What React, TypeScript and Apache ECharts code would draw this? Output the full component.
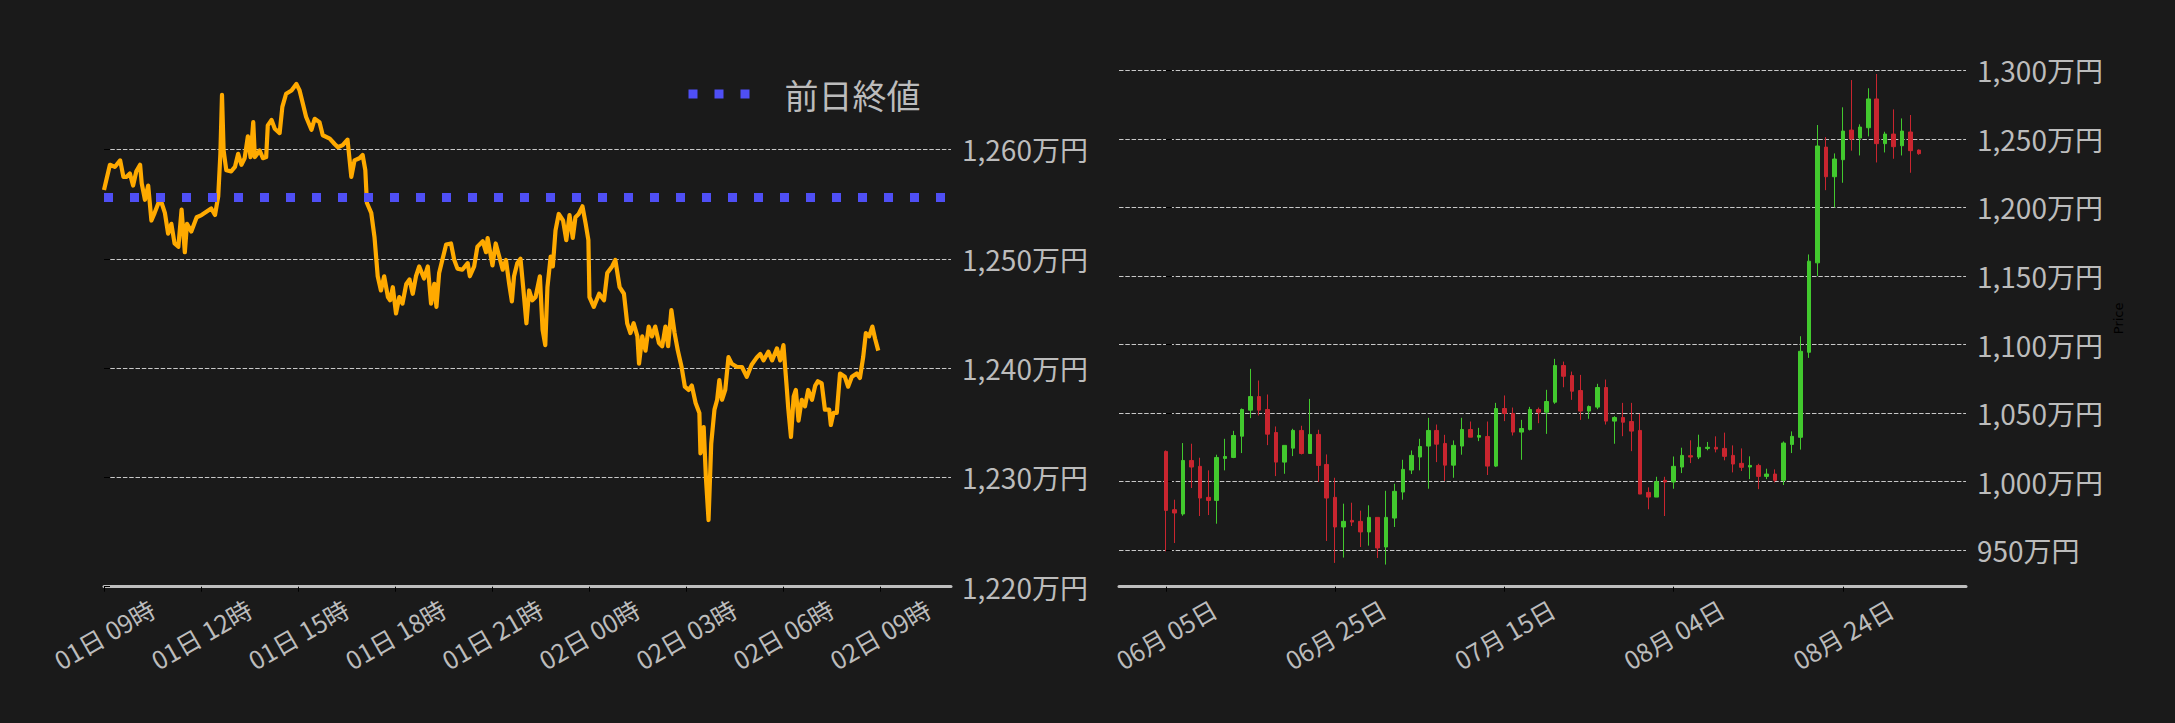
import * as echarts from 'echarts';
import React, { useEffect, useRef } from 'react';

// 日中（分単位、01日 09時 起点）
const intradayMinutes = [
  0, 11, 20, 30, 36, 42, 48, 54, 60, 67, 70, 76, 82, 88, 94, 101, 107, 113, 119, 125,
  131, 138, 144, 150, 154, 162, 172, 181, 190, 199, 206, 212, 216, 219, 222, 227, 236, 243, 249, 255,
  261, 267, 272, 277, 280, 289, 295, 301, 304, 311, 317, 326, 331, 338, 348, 357, 363, 369, 375, 385,
  391, 400, 406, 419, 428, 434, 443, 452, 459, 465, 474, 480, 485, 488, 496, 502, 508, 514, 520, 527,
  531, 536, 542, 548, 554, 561, 567, 573, 579, 585, 594, 601, 607, 613, 617, 622, 628, 635, 644, 650,
  656, 665, 675, 679, 687, 693, 703, 709, 712, 721, 727, 733, 740, 746, 752, 757, 761, 767, 773, 778,
  784, 789, 795, 801, 809, 814, 819, 823, 829, 833, 838, 844, 852, 858, 864, 870, 875, 881, 888, 894,
  899, 901, 909, 919, 928, 934, 943, 949, 957, 965, 971, 977, 983, 990, 993, 999, 1005, 1011, 1017, 1023,
  1030, 1036,
  1042, 1047, 1053, 1059, 1065, 1072, 1078, 1085, 1091, 1098, 1105, 1107, 1113, 1117, 1122, 1127, 1133, 1138, 1142, 1147,
  1153, 1159, 1165, 1175, 1184, 1193, 1202, 1212, 1218, 1224, 1233, 1240, 1249, 1255, 1261, 1267, 1270, 1275, 1280, 1284,
  1289, 1295, 1301, 1307, 1314, 1320, 1325, 1332, 1338, 1346, 1349, 1354, 1360, 1366, 1375, 1381, 1388, 1397, 1403, 1409,
  1414, 1420, 1426, 1431, 1437,
];

const intradayPrices = [
  1256.3, 1258.6, 1258.4, 1259.0, 1257.5, 1257.5, 1257.8, 1256.7, 1258.0, 1258.6,
  1256.9, 1255.4, 1256.7, 1253.5, 1254.2, 1255.1, 1255.1, 1254.2, 1252.3, 1253.2,
  1251.4, 1251.1, 1254.5, 1250.6, 1253.2, 1252.5, 1253.8, 1254.0, 1254.3, 1254.6,
  1254.0, 1255.7, 1259.6, 1265.0, 1259.9, 1258.1, 1258.0, 1258.4, 1259.6, 1258.6,
  1259.2, 1261.2, 1259.3, 1262.5, 1259.3, 1259.9, 1259.2, 1259.3, 1262.2, 1262.7,
  1261.9, 1261.5, 1263.9, 1265.1, 1265.4, 1266.0, 1265.4, 1264.2, 1263.0, 1261.8,
  1262.8, 1262.5, 1261.3, 1261.0, 1260.5, 1260.2, 1260.4, 1260.9, 1257.5, 1259.0,
  1259.2, 1259.5, 1258.1, 1255.1, 1254.2, 1252.0, 1248.4, 1247.1, 1248.4, 1246.5,
  1246.2, 1247.4, 1245.0, 1246.5, 1245.9, 1247.7, 1248.1, 1246.8, 1248.4, 1249.3,
  1248.2, 1249.3, 1245.9, 1247.7, 1245.6, 1248.7, 1249.9, 1251.3, 1251.4, 1249.9,
  1249.1, 1249.0, 1249.6, 1248.4, 1249.3, 1251.1, 1251.6, 1250.6, 1251.9, 1249.4,
  1251.4, 1250.3, 1249.0, 1249.9, 1247.7, 1246.1, 1248.4, 1249.6, 1250.0, 1247.4,
  1244.1, 1247.1, 1246.2, 1246.5, 1248.4, 1243.5, 1242.1, 1247.4, 1250.2, 1249.3,
  1252.6, 1254.1, 1253.5, 1251.7, 1254.0, 1251.9, 1253.8, 1254.1, 1254.8, 1253.2,
  1251.7, 1246.5, 1245.6, 1246.8, 1246.2, 1248.7, 1249.3, 1249.9, 1247.4, 1246.8,
  1244.1, 1243.2, 1244.1, 1242.9, 1240.4, 1242.9, 1241.6, 1243.8, 1242.9, 1243.8,
  1242.3, 1242.0,
  1243.8, 1242.0, 1245.3, 1243.2, 1241.6, 1240.1, 1238.3, 1238.0, 1238.4, 1236.8,
  1235.9, 1232.2, 1234.6, 1230.1, 1226.1, 1233.1, 1236.2, 1237.1, 1238.9, 1237.1,
  1238.0, 1241.0, 1240.4, 1240.1, 1240.1, 1239.2, 1240.3, 1241.0, 1241.3, 1240.7,
  1241.5, 1240.7, 1241.8, 1240.7, 1242.1, 1238.3, 1236.3, 1233.7, 1237.4, 1238.0,
  1235.2, 1237.1, 1236.5, 1238.0, 1237.1, 1238.4, 1238.8, 1238.6, 1236.2, 1236.2,
  1234.8, 1235.9, 1235.9, 1239.5, 1239.2, 1238.3, 1239.2, 1239.5, 1239.1, 1241.0,
  1243.2, 1242.9, 1243.8, 1242.7, 1241.6,
];

const prevClose = 1255.6;

const hourTickMinutes = [0, 180, 360, 540, 720, 900, 1080, 1260, 1440];
const hourTickLabels = [
  '01日 09時', '01日 12時', '01日 15時', '01日 18時', '01日 21時',
  '02日 00時', '02日 03時', '02日 06時', '02日 09時',
];
const intradayPriceTicks = [1220, 1230, 1240, 1250, 1260];

// 日足 [始値, 終値, 安値, 高値]（06月05日 〜 09月02日）
const dailyOHLC = [
  [1022.1, 979.1, 949.2, 1022.8], [979.6, 977.2, 955.3, 986.9], [976.5, 1015.5, 975.2, 1028.2],
  [1015.5, 1010.7, 995.4, 1027.7], [1011.2, 988.1, 975.0, 1017.5], [988.6, 986.4, 975.7, 1008.3],
  [986.4, 1017.7, 969.4, 1019.7], [1017.0, 1018.4, 1008.3, 1031.3], [1017.7, 1033.7, 1017.2, 1037.1],
  [1033.2, 1052.7, 1020.9, 1053.4], [1052.2, 1062.1, 1046.4, 1082.3], [1062.1, 1052.2, 1048.3, 1073.8],
  [1052.7, 1034.7, 1026.7, 1063.6], [1035.9, 1014.3, 1004.1, 1040.3], [1014.3, 1026.5, 1005.8, 1026.5],
  [1024.5, 1037.4, 1018.7, 1038.6], [1037.4, 1020.6, 1019.9, 1040.8], [1020.6, 1034.5, 1020.6, 1060.4],
  [1034.5, 1011.9, 999.8, 1037.9], [1012.6, 988.1, 956.8, 1019.9], [988.6, 967.0, 940.8, 1002.9],
  [967.0, 971.1, 944.7, 984.0], [971.8, 970.6, 967.7, 984.7], [971.1, 963.4, 952.4, 978.9],
  [963.4, 974.0, 953.4, 982.8], [974.0, 951.7, 944.4, 974.0], [952.4, 974.0, 939.6, 993.4],
  [973.5, 993.0, 967.0, 998.5], [992.5, 1009.0, 986.9, 1016.0], [1008.5, 1019.2, 1005.6, 1022.8],
  [1018.0, 1025.7, 1008.3, 1031.3], [1026.0, 1037.4, 994.9, 1046.6], [1037.4, 1027.4, 1014.3, 1041.7],
  [1027.9, 1012.1, 1000.5, 1034.2], [1012.1, 1026.5, 1002.9, 1030.1], [1026.0, 1038.1, 1019.7, 1046.6],
  [1038.1, 1032.5, 1032.5, 1043.9], [1032.5, 1033.7, 1029.6, 1039.3], [1033.0, 1011.4, 1004.9, 1043.9],
  [1011.4, 1053.4, 1010.7, 1057.5], [1053.4, 1049.8, 1044.2, 1062.9], [1049.8, 1036.2, 1033.7, 1054.1],
  [1036.2, 1038.8, 1016.0, 1045.1], [1038.1, 1052.7, 1037.4, 1054.6], [1052.7, 1050.7, 1042.7, 1054.1],
  [1050.7, 1058.5, 1034.9, 1067.0], [1058.0, 1084.7, 1056.8, 1089.6], [1084.7, 1076.9, 1068.9, 1087.6],
  [1077.4, 1066.0, 1059.7, 1080.3], [1066.5, 1051.5, 1045.1, 1077.9], [1051.5, 1054.8, 1045.9, 1055.6],
  [1054.4, 1068.7, 1052.9, 1071.4], [1068.7, 1044.2, 1041.7, 1074.5], [1044.2, 1046.8, 1027.7, 1047.8],
  [1046.8, 1043.4, 1033.2, 1057.5], [1043.9, 1036.9, 1022.3, 1057.5], [1037.4, 991.0, 991.0, 1049.5],
  [992.2, 988.8, 979.9, 995.9], [988.8, 1000.0, 988.8, 1003.6], [1001.0, 999.8, 975.0, 1003.6],
  [999.8, 1011.2, 994.9, 1018.4], [1010.7, 1019.2, 1006.3, 1024.8], [1019.0, 1018.0, 1013.6, 1030.2],
  [1018.0, 1025.1, 1016.5, 1034.3], [1024.3, 1025.1, 1022.9, 1029.0], [1025.1, 1023.8, 1021.4, 1033.1],
  [1024.3, 1018.5, 1015.6, 1035.8], [1019.2, 1012.9, 1006.8, 1026.5], [1013.4, 1010.5, 1007.8, 1024.3],
  [1010.7, 1011.9, 1001.9, 1018.5], [1011.9, 1003.9, 994.6, 1013.1], [1003.9, 1005.6, 1001.9, 1009.5],
  [1005.6, 1001.0, 999.5, 1009.0], [1001.0, 1028.2, 997.6, 1029.4], [1027.2, 1033.1, 1020.9, 1036.7],
  [1032.4, 1095.1, 1023.4, 1106.1], [1094.4, 1160.8, 1090.3, 1165.7], [1159.6, 1244.8, 1149.9, 1260.1],
  [1244.0, 1222.4, 1212.6, 1251.3], [1222.4, 1235.3, 1200.0, 1239.4], [1234.8, 1255.7, 1218.0, 1273.0],
  [1256.4, 1249.9, 1241.4, 1292.9], [1250.6, 1258.6, 1237.9, 1260.6], [1258.1, 1279.1, 1251.8, 1286.9],
  [1279.1, 1246.5, 1232.8, 1297.3], [1246.5, 1253.5, 1240.1, 1255.2], [1253.5, 1244.3, 1235.5, 1271.5],
  [1245.0, 1255.7, 1237.9, 1264.9], [1255.0, 1241.4, 1225.3, 1267.4], [1241.8, 1239.2, 1238.4, 1242.3],
];

const dayTickIndex = [0, 20, 40, 60, 80];
const dayTickLabels = ['06月 05日', '06月 25日', '07月 15日', '08月 04日', '08月 24日'];
const dailyPriceTicks = [950, 1000, 1050, 1100, 1150, 1200, 1250, 1300];

const FONT = "'Noto Sans CJK JP', 'Noto Sans', sans-serif";
const LABEL_COLOR = '#bcbcbc';
const PREV_CLOSE_COLOR = '#4f4ff5';
const GRID_LINE = { color: '#c8c8c8', width: 1, type: [4.5, 1.8] as number[] };

const yen = (v: number) => `${Math.round(v).toLocaleString('en-US')}万円`;

const App: React.FC = () => {
  const chartRef = useRef<HTMLDivElement>(null);

  useEffect(() => {
    if (!chartRef.current) return;
    const chart = echarts.init(chartRef.current, null, { renderer: 'svg' });

    const xLabel = (ticks: number[], labels: string[]) => ({
      customValues: ticks,
      formatter: (v: number) => labels[ticks.indexOf(v)] ?? '',
      rotate: 30,
      align: 'center',
      verticalAlign: 'middle',
      margin: 47,
      color: LABEL_COLOR,
      fontSize: 25,
      fontFamily: FONT,
    });

    const yLabel = (ticks: number[]) => ({
      customValues: ticks,
      formatter: (v: number) => yen(v),
      margin: 11,
      color: LABEL_COLOR,
      fontSize: 28,
      fontFamily: FONT,
    });

    const option: any = {
      animation: false,
      backgroundColor: '#1a1a1a',
      legend: {
        data: ['前日終値'],
        left: 684,
        top: 77,
        padding: 0,
        itemWidth: 61,
        itemHeight: 10,
        // 凡例は点線のみ（中央のシンボルは消す）
        itemStyle: { opacity: 0 },
        lineStyle: { color: PREV_CLOSE_COLOR, width: 9, type: [9, 17] },
        textStyle: { color: LABEL_COLOR, fontSize: 34, fontFamily: FONT, padding: [0, 0, 0, 30] },
      },
      grid: [
        { left: 104, top: 50, width: 847, height: 536.7, outerBoundsMode: 'none' },
        { left: 1119, top: 50, width: 847, height: 536.7, outerBoundsMode: 'none' },
      ],
      xAxis: [
        {
          gridIndex: 0,
          type: 'value',
          min: 0,
          max: 1572,
          axisLine: { show: true, onZero: false, lineStyle: { color: '#bebebe', width: 3 } },
          axisTick: { show: true, customValues: hourTickMinutes, length: 5, lineStyle: { color: '#000', width: 1 } },
          axisLabel: xLabel(hourTickMinutes, hourTickLabels),
          splitLine: { show: false },
        },
        {
          gridIndex: 1,
          type: 'value',
          min: -5.55,
          max: 94.55,
          axisLine: { show: true, onZero: false, lineStyle: { color: '#bebebe', width: 3 } },
          axisTick: { show: true, customValues: dayTickIndex, length: 5, lineStyle: { color: '#000', width: 1 } },
          axisLabel: xLabel(dayTickIndex, dayTickLabels),
          splitLine: { show: false },
        },
      ],
      yAxis: [
        {
          gridIndex: 0,
          type: 'value',
          position: 'right',
          min: 1220,
          max: 1269.1,
          axisLine: { show: false },
          axisTick: { show: true, customValues: intradayPriceTicks, length: 6, lineStyle: { color: '#000' } },
          axisLabel: yLabel(intradayPriceTicks),
          splitLine: { show: true, lineStyle: GRID_LINE },
        },
        {
          gridIndex: 1,
          type: 'value',
          position: 'right',
          min: 923.46,
          max: 1314.8,
          name: 'Price',
          nameLocation: 'middle',
          nameRotate: 90,
          nameGap: 146,
          nameTextStyle: { color: '#000', fontSize: 13, fontFamily: 'DejaVu Sans' },
          axisLine: { show: false },
          axisTick: { show: true, customValues: dailyPriceTicks, length: 6, lineStyle: { color: '#000' } },
          axisLabel: yLabel(dailyPriceTicks),
          splitLine: { show: true, lineStyle: GRID_LINE },
        },
      ],
      series: [
        {
          name: '価格',
          type: 'line',
          xAxisIndex: 0,
          yAxisIndex: 0,
          data: intradayMinutes.map((m, i) => [m, intradayPrices[i]]),
          showSymbol: false,
          symbol: 'none',
          lineStyle: { color: '#ffaa00', width: 4.2, join: 'round' },
          z: 2,
        },
        {
          name: '前日終値',
          type: 'line',
          xAxisIndex: 0,
          yAxisIndex: 0,
          data: [
            [0, prevClose],
            [1572, prevClose],
          ],
          symbol: 'none',
          itemStyle: { color: PREV_CLOSE_COLOR },
          lineStyle: { color: PREV_CLOSE_COLOR, width: 9, type: [9, 17], cap: 'butt' },
          z: 3,
        },
        {
          name: '日足',
          type: 'candlestick',
          xAxisIndex: 1,
          yAxisIndex: 1,
          barWidth: 4,
          data: dailyOHLC.map((c, i) => [i, ...c]),
          itemStyle: {
            color: '#42c92e',
            color0: '#c9252f',
            borderColor: '#42c92e',
            borderColor0: '#c9252f',
            borderWidth: 1,
          },
        },
      ],
    };

    chart.setOption(option);

    return () => {
      chart.dispose();
    };
  }, []);

  return (
    <div
      ref={chartRef}
      style={{ position: 'fixed', left: 0, top: 0, width: '2175px', height: '723px' }}
    />
  );
};

export default App;
